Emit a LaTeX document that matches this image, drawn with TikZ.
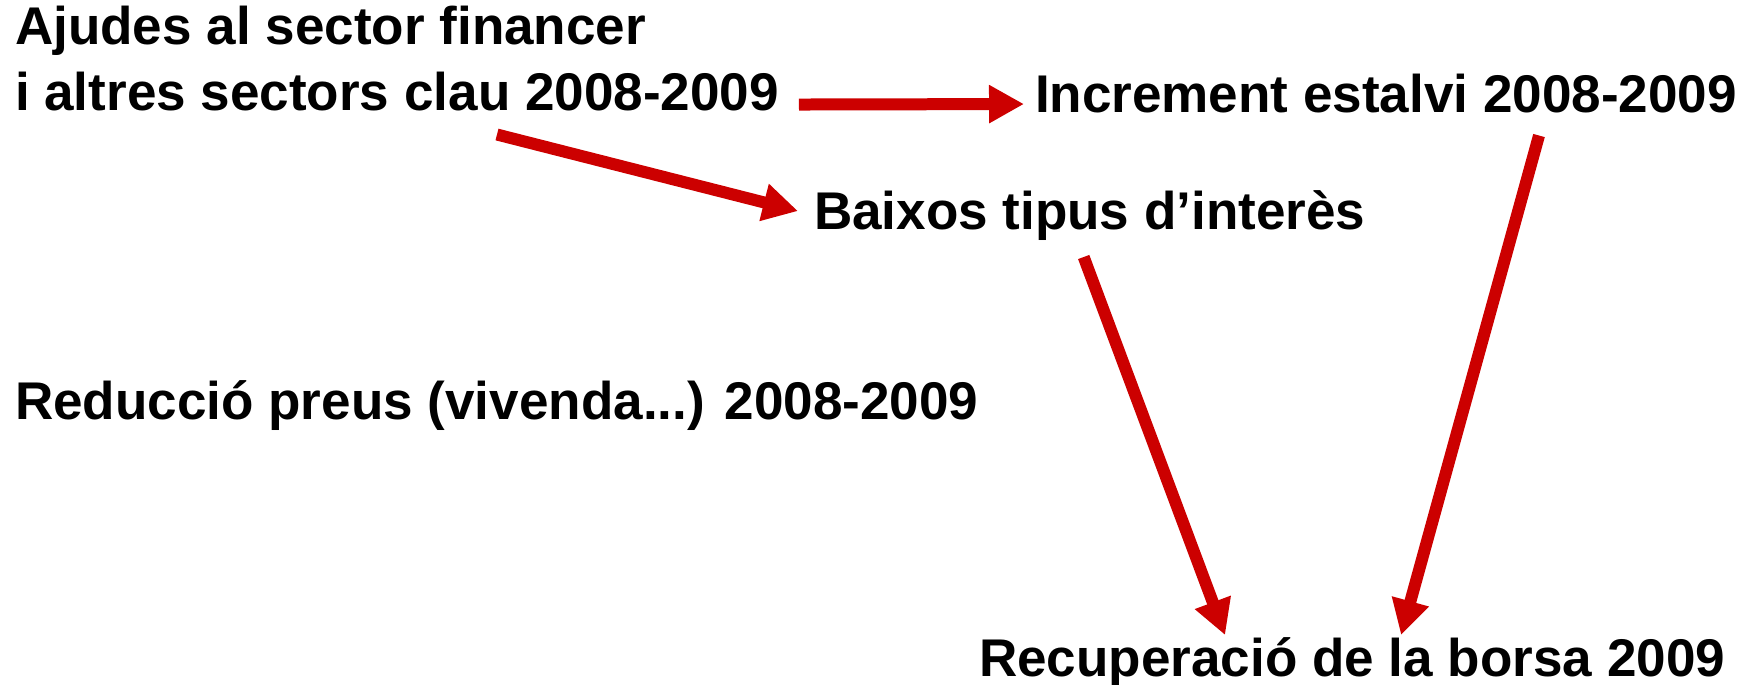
\documentclass[tikz,border=0pt]{standalone}
\usepackage{fontspec}
\setmainfont{Liberation Sans}
\usepackage{tikz}
\usetikzlibrary{arrows.meta}
\definecolor{arrowred}{RGB}{204,0,0}
\tikzstyle{factor} = [inner sep=0pt, outer sep=0pt, anchor=base west, align=left, font=\fontsize{30.2}{37}\selectfont\bfseries]
\tikzstyle{arrow} = [line width=0.24cm, draw=arrowred, -{Triangle[width=0.72cm,length=0.7cm]}]
\begin{document}
\begin{tikzpicture}[x=0.02cm, y=-0.02cm]
\useasboundingbox (0,0) rectangle (1751,684);

\node (aid)    [factor] at (15,110)   {Ajudes al sector financer\\i altres sectors clau 2008-2009};
\node (saving) [factor] at (1035,112) {Increment estalvi 2008-2009};
\node (low)    [factor] at (814,229)  {Baixos tipus d’interès};
\node (prices) [factor] at (15,419)   {Reducció preus (vivenda...) 2008-2009};
\node (stock)  [factor] at (979,676)  {Recuperació de la borsa 2009};

\draw [arrow] ([shift={(20,-6)}]aid.south east) -- ([shift={(-11,11)}]saving.west);
\draw [arrow] ([shift={(100,24)}]aid.south) -- ([shift={(-16,-4)}]low.west);
\draw [arrow] ([shift={(-6,17)}]low.south) -- ([shift={(-127,-2)}]stock.north);
\draw [arrow] ([shift={(153,23)}]saving.south) -- ([shift={(49,-2)}]stock.north);

\end{tikzpicture}
\end{document}
